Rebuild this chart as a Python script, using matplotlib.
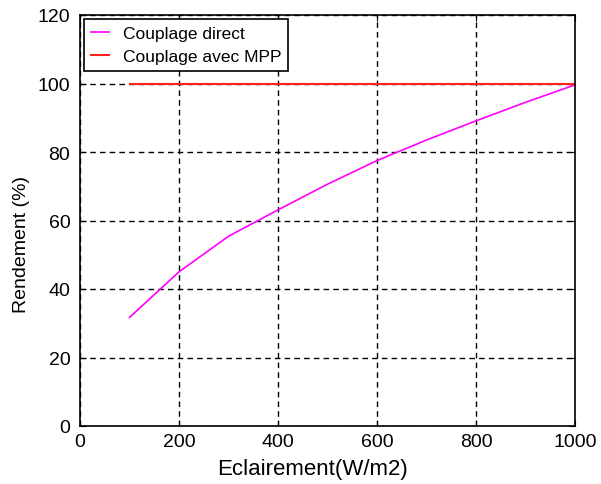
import matplotlib
matplotlib.use("Agg")
import matplotlib.pyplot as plt

plt.rcParams['font.family'] = ['Liberation Sans', 'DejaVu Sans']

# éclairement (W/m2)
eclairement = [100, 200, 300, 400, 500, 600, 700, 800, 900, 1000]
# rendement couplage direct (%)
rend_direct = [31.7, 45.0, 55.4, 63.1, 70.6, 77.5, 83.5, 89.1, 94.5, 99.6]
# rendement couplage avec MPP (%)
rend_mpp = [100, 100, 100, 100, 100, 100, 100, 100, 100, 100]

fig = plt.figure(figsize=(6.01, 4.85), dpi=100)
ax = fig.add_axes([80/601, 1 - 427/485, 495/601, 411/485])

ax.plot(eclairement, rend_direct, color='#ff00ff', linewidth=1.2, label='Couplage direct')
ax.plot(eclairement, rend_mpp, color='#ff2020', linewidth=1.5, label='Couplage avec MPP')

ax.set_xlim(0, 1000)
ax.set_ylim(0, 120)
ax.set_xticks([0, 200, 400, 600, 800, 1000])
ax.set_yticks([0, 20, 40, 60, 80, 100, 120])
ax.grid(True, color='black', linestyle=(0, (4, 3)), linewidth=1)
ax.tick_params(direction='in', top=True, right=True, length=4, labelsize=14)
ax.tick_params(axis='y', pad=7)
ax.tick_params(axis='x', pad=5)
for s in ax.spines.values():
    s.set_linewidth(1.2)

ax.set_xlabel('Eclairement(W/m2)', fontsize=16)
ax.xaxis.set_label_coords(0.47, -0.078)
ax.set_ylabel('Rendement (%)', fontsize=14)
ax.yaxis.set_label_coords(-0.101, 0.443)

leg = ax.legend(loc='upper left', fontsize=12.5, fancybox=False, framealpha=1,
                edgecolor='black', handlelength=1.0, handletextpad=0.8,
                borderaxespad=0.25, borderpad=0.4, labelspacing=0.45)
leg.get_frame().set_linewidth(1.2)

fig.savefig('out.png', dpi=100)
